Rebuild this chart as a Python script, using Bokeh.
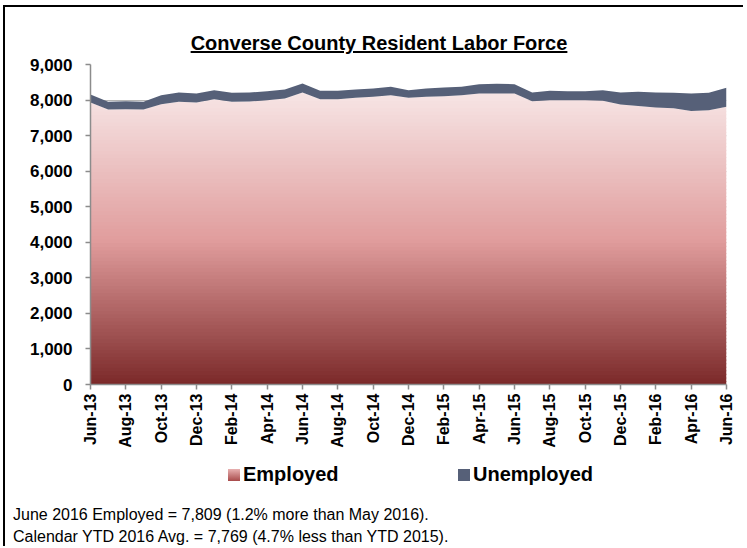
import math
import numpy as np
from bokeh.plotting import figure
from bokeh.layouts import column
from bokeh.models import Div, FixedTicker, NumeralTickFormatter, Range1d
from bokeh.embed import file_html
from bokeh.resources import INLINE

# ---------------- data ----------------
months = ["Jun-13", "Jul-13", "Aug-13", "Sep-13", "Oct-13", "Nov-13", "Dec-13",
          "Jan-14", "Feb-14", "Mar-14", "Apr-14", "May-14", "Jun-14", "Jul-14",
          "Aug-14", "Sep-14", "Oct-14", "Nov-14", "Dec-14", "Jan-15", "Feb-15",
          "Mar-15", "Apr-15", "May-15", "Jun-15", "Jul-15", "Aug-15", "Sep-15",
          "Oct-15", "Nov-15", "Dec-15", "Jan-16", "Feb-16", "Mar-16", "Apr-16",
          "May-16", "Jun-16"]
employed = [7931, 7734, 7744, 7734, 7884, 7950, 7931, 8025, 7950, 7959, 7997, 8044,
            8212, 8025, 8025, 8062, 8090, 8137, 8062, 8090, 8109, 8137, 8184, 8184,
            8184, 7969, 7997, 7997, 7997, 7978, 7875, 7830, 7790, 7770, 7690, 7716,
            7809]
unemployed = [225, 216, 225, 216, 253, 262, 253, 253, 253, 253, 253, 253,
              253, 234, 234, 235, 235, 235, 216, 235, 244, 235, 263, 272,
              263, 243, 262, 253, 253, 300, 337, 401, 422, 433, 494, 487,
              535]
y_ticks = [0, 1000, 2000, 3000, 4000, 5000, 6000, 7000, 8000, 9000]
series_names = ["Employed", "Unemployed"]
title_text = "Converse County Resident Labor Force"
note1 = "June 2016 Employed = 7,809 (1.2% more than May 2016)."
note2 = "Calendar YTD 2016 Avg. = 7,769 (4.7% less than YTD 2015)."

FONT = "Liberation Sans"
SLATE = "#566078"

x = np.arange(len(months))
emp = np.array(employed, dtype=float)
tot = emp + np.array(unemployed, dtype=float)

p = figure(width=738, height=398, output_backend="svg", toolbar_location=None,
           x_range=Range1d(0, len(months) - 1), y_range=Range1d(0, 9000),
           min_border_left=85, min_border_top=8, min_border_right=17,
           min_border_bottom=70, title=None, margin=0)
p.outline_line_color = None
p.background_fill_color = "white"
p.border_fill_color = "white"

# gradient stops for the employed area (fraction of 9000 -> rgb)
stops = [(0.0, (122, 40, 40)), (0.45, (224, 156, 156)), (0.88, (245, 224, 224)),
         (1.0, (250, 240, 240))]


def grad(f):
    for (f0, c0), (f1, c1) in zip(stops[:-1], stops[1:]):
        if f <= f1:
            t = (f - f0) / (f1 - f0)
            return "#%02x%02x%02x" % tuple(int(round(a + (b - a) * t)) for a, b in zip(c0, c1))
    return "#%02x%02x%02x" % stops[-1][1]


step = 100
edges = np.arange(0, 9000 + step, step)
for lo, hi in zip(edges[:-1], edges[1:]):
    if lo >= emp.max():
        break
    y1 = np.minimum(emp, max(lo - 30, 0))
    y2 = np.minimum(emp, hi)
    p.varea(x=x, y1=y1, y2=y2, fill_color=grad((lo + hi) / 2 / 9000))

p.varea(x=x, y1=emp, y2=tot, fill_color=SLATE)

# axes
p.xgrid.visible = False
p.ygrid.grid_line_color = "#b4b4b4"
p.ygrid.ticker = FixedTicker(ticks=y_ticks)

p.yaxis.ticker = FixedTicker(ticks=y_ticks)
p.yaxis.formatter = NumeralTickFormatter(format="0,0")
p.xaxis.ticker = FixedTicker(ticks=list(range(0, len(months), 2)))
p.xaxis.major_label_overrides = {i: months[i] for i in range(0, len(months), 2)}
p.xaxis.major_label_orientation = math.pi / 2

for ax in (p.xaxis, p.yaxis):
    ax.axis_line_color = "#8c8c8c"
    ax.axis_line_width = 1.5
    ax.major_tick_line_color = "#8c8c8c"
    ax.major_tick_line_width = 1.5
    ax.minor_tick_line_color = None
    ax.major_tick_in = 0
    ax.major_tick_out = 5
    ax.major_label_text_font = FONT
    ax.major_label_text_font_style = "bold"
    ax.major_label_text_color = "black"
p.yaxis.major_label_text_font_size = "17px"
p.yaxis.major_label_standoff = 13
p.xaxis.major_label_text_font_size = "16px"
p.xaxis.major_label_standoff = 4

FF = "font-family:'Liberation Sans',Arial,sans-serif;"

title_div = Div(
    text=('<div style="' + FF + 'font-weight:bold;font-size:20px;text-decoration:underline;'
          'text-align:center;width:748px;padding-top:25px;line-height:22px;color:black;">'
          + title_text + '</div>'),
    width=738, height=49, margin=0)

swatches = ["linear-gradient(#e8b0b0, #a84a4a)", SLATE]
leg_x = [223, 453]
legend_html = '<div style="position:relative;height:24px;margin-top:8px;width:730px;">'
for name, sw, lx in zip(series_names, swatches, leg_x):
    legend_html += ('<span style="position:absolute;left:%dpx;top:7px;width:12px;height:12px;'
                    'background:%s;"></span>' % (lx, sw))
    legend_html += ('<span style="position:absolute;left:%dpx;top:0px;' % (lx + 15) + FF +
                    'font-weight:bold;font-size:20px;line-height:24px;color:black;">'
                    + name + '</span>')
legend_html += '</div>'

notes_html = ('<div style="' + FF + 'font-size:16px;line-height:22px;padding-left:8px;'
              'margin-top:18px;color:black;white-space:nowrap;">'
              + note1 + '<br>' + note2 + '</div>')

bottom_div = Div(text=legend_html + notes_html, width=738, height=92, margin=0)

layout = column(title_div, p, bottom_div, spacing=0, margin=0,
                styles={"border-left": "2px solid black", "border-top": "2px solid black",
                        "margin-left": "3px", "margin-top": "5px", "overflow": "hidden"})

open("out.html", "w").write(file_html(layout, INLINE))
